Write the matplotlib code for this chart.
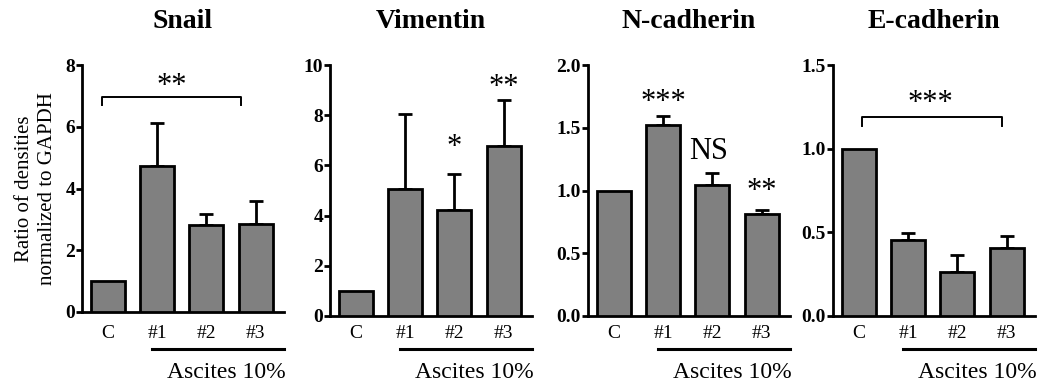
import numpy as np
import matplotlib
matplotlib.use('Agg')
import matplotlib.pyplot as plt
import matplotlib.transforms as mtransforms

plt.rcParams['font.family'] = ['Liberation Serif', 'DejaVu Serif']

W, H = 1045, 391

groups = ['C', '#1', '#2', '#3']
titles = ['Snail', 'Vimentin', 'N-cadherin', 'E-cadherin']

snail_mean = [1.0, 4.74, 2.81, 2.85]
snail_top = [None, 6.13, 3.17, 3.59]
vim_mean = [1.0, 5.07, 4.24, 6.79]
vim_top = [None, 8.06, 5.67, 8.62]
ncad_mean = [1.0, 1.525, 1.044, 0.81]
ncad_top = [None, 1.596, 1.142, 0.847]
ecad_mean = [1.0, 0.454, 0.265, 0.408]
ecad_top = [None, 0.494, 0.366, 0.48]

means = [snail_mean, vim_mean, ncad_mean, ecad_mean]
tops = [snail_top, vim_top, ncad_top, ecad_top]
yticks = [[0, 2, 4, 6, 8], [0, 2, 4, 6, 8, 10],
          [0.0, 0.5, 1.0, 1.5, 2.0], [0.0, 0.5, 1.0, 1.5]]
ytick_fmt = ['{:.0f}', '{:.0f}', '{:.1f}', '{:.1f}']

# pixel boxes: left, right, top, bottom
boxes = [(82, 284, 65, 312), (330, 532, 65, 316),
         (588, 790, 65, 316), (833, 1035, 65, 316)]

fig = plt.figure(figsize=(W / 100, H / 100), dpi=100)

x = np.arange(4)
axes = []
for i in range(4):
    l, r, t, b = boxes[i]
    ax = fig.add_axes([l / W, 1 - b / H, (r - l) / W, (b - t) / H])
    axes.append(ax)
    ax.bar(x, means[i], width=0.69, color='#808080', edgecolor='black',
           linewidth=2.0, zorder=3)
    xe = x[1:]
    ye = np.array(means[i][1:])
    up = np.array(tops[i][1:]) - ye
    ax.errorbar(xe, ye, yerr=[np.zeros(3), up], fmt='none', ecolor='black',
                elinewidth=2.0, capsize=5, capthick=2.0, zorder=2)
    ax.set_xlim(-0.52, 3.57)
    ax.set_ylim(yticks[i][0], yticks[i][-1])
    ax.set_yticks(yticks[i])
    ax.set_yticklabels([ytick_fmt[i].format(v) for v in yticks[i]],
                       fontsize=14, fontweight='bold')
    ax.set_xticks(x)
    ax.set_xticklabels(groups, fontsize=14)
    ax.tick_params(axis='x', length=0, pad=6.8 + (316 - b) * 0.7)
    ax.tick_params(axis='y', direction='out', length=4, width=2.0, pad=1)
    for s in ['top', 'right']:
        ax.spines[s].set_visible(False)
    for s in ['left', 'bottom']:
        ax.spines[s].set_linewidth(2.0)
    ax.set_facecolor('none')

    # underline and group label (fixed pixel rows)
    line_y = (b - 349) / (b - t)
    text_y = (b - 373) / (b - t)
    trans = mtransforms.blended_transform_factory(ax.transData, ax.transAxes)
    ax.plot([0.89, 3.57], [line_y, line_y], color='black', lw=2.2,
            transform=trans, clip_on=False)
    ax.text(3.6, text_y, 'Ascites 10%', fontsize=17, ha='right',
            va='center', transform=trans)

    # title
    fig.text((l + r) / 2 / W, 1 - 21 / H, titles[i], fontsize=20,
             fontweight='bold', ha='center', va='center')

axes[0].set_ylabel('Ratio of densities\nnormalized to GAPDH', fontsize=15,
                   labelpad=6, linespacing=1.25)

star_kw = dict(fontsize=22, ha='center', va='center')

# Snail bracket
ax = axes[0]
ax.plot([-0.115, -0.115, 2.70, 2.70], [6.7, 6.97, 6.97, 6.7], color='black',
        lw=1.4, clip_on=False)
ax.text(1.30, 7.3, '**', **star_kw)

# Vimentin
ax = axes[1]
ax.text(2, 6.7, '*', **star_kw)
ax.text(3, 9.1, '**', **star_kw)

# N-cadherin
ax = axes[2]
ax.text(1, 1.7, '***', **star_kw)
ax.text(1.93, 1.31, 'NS', fontsize=22, ha='center', va='center')
ax.text(3, 0.99, '**', **star_kw)

# E-cadherin
ax = axes[3]
ax.plot([0.067, 0.067, 2.90, 2.90], [1.135, 1.19, 1.19, 1.135], color='black',
        lw=1.4, clip_on=False)
ax.text(1.46, 1.27, '***', **star_kw)

fig.savefig('out.png', dpi=100)
